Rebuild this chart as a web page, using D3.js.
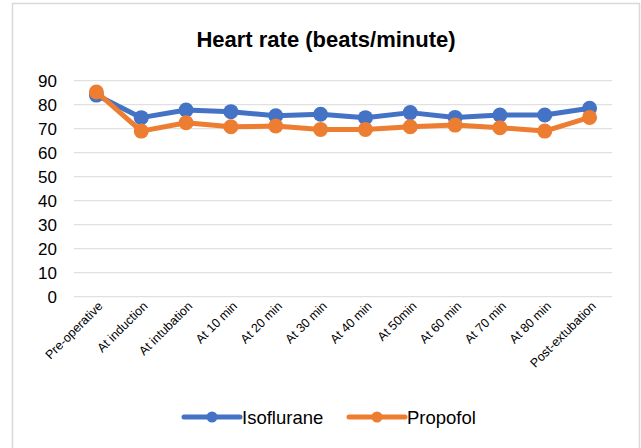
<!DOCTYPE html>
<html><head><meta charset="utf-8">
<script src="https://cdn.jsdelivr.net/npm/d3@7"></script>
<style>body{margin:0;background:#fff;font-family:"Liberation Sans",Arial,sans-serif;}</style>
</head><body><div id="chart"></div>
<script>
const categories = ["Pre-operative","At induction","At intubation","At 10 min","At 20 min","At 30 min","At 40 min","At 50min","At 60  min","At 70 min","At 80 min","Post-extubation"];
const isoflurane = [84, 74.6, 77.8, 77.1, 75.4, 76.0, 74.6, 76.7, 74.7, 75.7, 75.7, 78.5];
const propofol = [85.3, 69, 72.5, 70.8, 71.1, 69.7, 69.7, 70.8, 71.5, 70.4, 69, 74.7];
const yTicks = [0,10,20,30,40,50,60,70,80,90];
const seriesNames = ["Isoflurane","Propofol"];
const colors = ["#4472C4","#ED7D31"];

const W = 641, H = 448;
const svg = d3.select("#chart").append("svg").attr("width", W).attr("height", H);
svg.append("rect").attr("x",12.5).attr("y",3.5).attr("width",627).attr("height",450)
  .attr("fill","#fff").attr("stroke","#d9d9d9").attr("stroke-width",1.5);

svg.append("text").attr("x",326).attr("y",46.5).attr("text-anchor","middle")
  .attr("font-size","22px").attr("font-weight","bold").attr("fill","#000")
  .text("Heart rate (beats/minute)");

const x = d3.scaleBand().domain(categories).range([74, 612]);
const y = d3.scaleLinear().domain([0, 90]).range([296.7, 80.7]);

const grid = svg.append("g");
yTicks.forEach(t => {
  grid.append("line").attr("x1",74).attr("x2",612).attr("y1",y(t)).attr("y2",y(t))
    .attr("stroke","#d9d9d9").attr("stroke-width",1);
});

const yAxis = svg.append("g").attr("transform","translate(74,0)")
  .call(d3.axisLeft(y).tickValues(yTicks).tickSize(0).tickPadding(17));
yAxis.select(".domain").remove();
yAxis.selectAll("text").attr("font-size","17px").attr("fill","#000").attr("font-family","'Liberation Sans',Arial,sans-serif");

const xAxis = svg.append("g").attr("transform","translate(0,296.7)")
  .call(d3.axisBottom(x).tickSize(0));
xAxis.select(".domain").remove();
xAxis.selectAll("text").attr("font-size","12.5px").attr("fill","#000")
  .attr("font-family","'Liberation Sans',Arial,sans-serif")
  .attr("text-anchor","end").attr("dy",0)
  .attr("transform","translate(5,8) rotate(-45)");

const line = d3.line().x((d,i)=>x(categories[i])+x.bandwidth()/2).y(d=>y(d));
[isoflurane, propofol].forEach((s,k)=>{
  const g = svg.append("g");
  g.append("path").datum(s).attr("d",line).attr("fill","none")
    .attr("stroke",colors[k]).attr("stroke-width",5).attr("stroke-linejoin","round");
  g.selectAll("circle").data(s).enter().append("circle")
    .attr("cx",(d,i)=>x(categories[i])+x.bandwidth()/2).attr("cy",d=>y(d))
    .attr("r",7.5).attr("fill",colors[k]);
});

const legX = [184, 349];
seriesNames.forEach((n,k)=>{
  const g = svg.append("g").attr("transform",`translate(${legX[k]},417)`);
  g.append("line").attr("x1",0).attr("x2",56).attr("stroke",colors[k]).attr("stroke-width",5).attr("stroke-linecap","round");
  g.append("circle").attr("cx",28).attr("r",5.5).attr("fill",colors[k]);
  g.append("text").attr("x",58).attr("y",6.5).attr("font-size","18.5px").attr("fill","#000").text(n);
});
</script></body></html>
